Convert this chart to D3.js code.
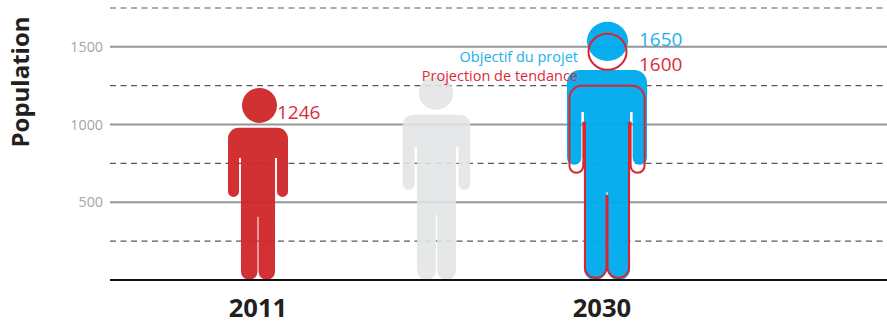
<!DOCTYPE html>
<html><head><meta charset="utf-8">
<script src="https://cdnjs.cloudflare.com/ajax/libs/d3/7.8.5/d3.min.js"></script>
<style>html,body{margin:0;padding:0;background:#fff}svg{display:block}text{font-family:"Open Sans",sans-serif}</style>
</head><body><svg id="c" width="887" height="324"></svg>
<script>
const categories = ["2011", "", "2030"];
const soliTicks = [500, 1000, 1500];
const dashTicks = [250, 750, 1250, 1750];
const figureNames = ["Actuel", "Intermediaire", "Objectif du projet", "Projection de tendance"];
const figureCats = ["2011", "", "2030", "2030"];
const figureValues = [1246, 1310, 1650, 1600];
const valueLabels = ["1246", "", "1650", "1600"];

const W = 887, H = 324, X0 = 110, BASE = 280;
const y = d3.scaleLinear().domain([0, 1750]).range([BASE, 8]);
const x = d3.scaleOrdinal().domain(categories).range([258, 436.5, 607]);
const svg = d3.select("#c");

// proportions of each pictogram, relative to its own height
const shapes = [
 {fill:"#D0262A",stroke:"none",op:.95,top:.992,hb:.811,body:.786,slit:.63,arm:.429,crotch:.326,hw:.155,ai:.098,leg:.088,rx:.0905,cx:1.5,lift:0,gap:.5,r:.055},
 {fill:"#E3E4E5",stroke:"none",op:.88,top:1,hb:.836,body:.811,slit:.654,arm:.442,crotch:.32,hw:.166,ai:.108,leg:.096,rx:.085,cx:-.5,lift:0,gap:.6,r:.05},
 {fill:"#00ABEE",stroke:"none",op:.96,top:1.007,hb:.854,body:.819,slit:.655,arm:.449,crotch:.343,hw:.156,ai:.1,leg:.09,rx:.08,cx:.5,lift:0,gap:.5,r:.05},
 {fill:"none",stroke:"#DC2430",op:1,top:.99,hb:.845,body:.773,slit:.624,arm:.423,crotch:.33,hw:.151,ai:.095,leg:.0885,rx:.0765,cx:.5,lift:2,gap:.5,r:.05}
];

function bodyPath(s, h, cx) {
  const Y = f => BASE - s.lift - f * h, X = f => cx + f * h, g = s.gap;
  const r = s.r * h, aw = (s.hw - s.ai) * h, ar = aw / 2;
  const legL = (s.leg * h - g), lr = legL / 2;
  const foot = BASE - s.lift - lr, armEnd = Y(s.arm) - ar;
  const p = d3.path();
  const xl = X(-s.hw), xr = X(s.hw), t = Y(s.body);
  p.moveTo(xl + r, t);
  p.lineTo(xr - r, t);
  p.arcTo(xr, t, xr, t + r, r);
  p.lineTo(xr, armEnd);
  p.arc(xr - ar, armEnd, ar, 0, Math.PI);
  p.lineTo(X(s.ai), Y(s.slit));
  p.lineTo(X(s.leg), Y(s.slit));
  p.lineTo(X(s.leg), foot);
  p.arc(cx + g + lr, foot, lr, 0, Math.PI);
  p.lineTo(cx + g, Y(s.crotch));
  p.lineTo(cx - g, Y(s.crotch));
  p.lineTo(cx - g, foot);
  p.arc(cx - g - lr, foot, lr, 0, Math.PI);
  p.lineTo(X(-s.leg), Y(s.slit));
  p.lineTo(X(-s.ai), Y(s.slit));
  p.lineTo(xl + aw, armEnd);
  p.arc(xl + ar, armEnd, ar, 0, Math.PI);
  p.lineTo(xl, t + r);
  p.arcTo(xl, t, xl + r, t, r);
  p.closePath();
  return p.toString();
}

// gridlines and tick labels
const axis = d3.axisLeft(y).tickValues(soliTicks).tickSize(0).tickPadding(7).tickFormat(d3.format("d"));
const ag = svg.append("g").attr("transform", `translate(${X0},0)`).call(axis);
ag.select(".domain").remove();
ag.selectAll("text").attr("fill", "#A4A6A9").style("font-size", "14.3px").style("font-family", '"Open Sans",sans-serif');
svg.selectAll(".solid").data(soliTicks).join("line").attr("class", "solid")
  .attr("x1", X0).attr("x2", W).attr("y1", y).attr("y2", y)
  .attr("stroke", "#939598").attr("stroke-width", 2);
svg.selectAll(".dash").data(dashTicks).join("line").attr("class", "dash")
  .attr("x1", X0).attr("x2", W).attr("y1", y).attr("y2", y)
  .attr("stroke", "#58595B").attr("stroke-width", 1.2).attr("stroke-dasharray", "6 4.5");

// pictograms
figureValues.forEach((v, i) => {
  const s = shapes[i], h = BASE - y(v), cx = x(figureCats[i]);
  const g = svg.append("g").attr("opacity", s.op).attr("data-name", figureNames[i]);
  const attrs = el => el.attr("fill", s.fill).attr("stroke", s.stroke).attr("stroke-width", 2);
  attrs(g.append("path").attr("d", bodyPath(s, h, cx)));
  attrs(g.append("ellipse")
    .attr("cx", cx + s.cx)
    .attr("cy", BASE - (s.top + s.hb) / 2 * h)
    .attr("rx", s.rx * h)
    .attr("ry", (s.top - s.hb) / 2 * h));
});

// baseline
svg.append("line").attr("x1", X0).attr("x2", W).attr("y1", BASE).attr("y2", BASE)
  .attr("stroke", "#111").attr("stroke-width", 2);

// category labels
svg.selectAll(".cat").data(categories.filter(d => d)).join("text").attr("class", "cat")
  .attr("x", (d, i) => x(d) - (i ? 5 : 0)).attr("y", 317).attr("text-anchor", "middle")
  .attr("fill", "#231F20").style("font-size", "25.6px").style("font-weight", 700).text(d => d);

// axis title
svg.append("text").attr("transform", "translate(29,82) rotate(-90)").attr("text-anchor", "middle")
  .attr("fill", "#231F20").style("font-size", "24px").style("font-weight", 700).text("Population");

// value labels
const vlColor = ["#DA2C38", null, "#1CB0EC", "#DA2C38"];
const vlX = [277, 0, 639, 639], vlY = [119, 0, 46, 71];
valueLabels.forEach((t, i) => { if (t)
  svg.append("text").attr("x", vlX[i]).attr("y", vlY[i]).attr("fill", vlColor[i]).style("font-size", "19px").text(t);
});

// legend text
[[figureNames[2], 62, "#1CB0EC"], [figureNames[3], 81, "#DA2C38"]].forEach(([t, yy, c]) =>
  svg.append("text").attr("x", 578).attr("y", yy).attr("text-anchor", "end").attr("fill", c).style("font-size", "14.5px").text(t));
</script></body></html>
